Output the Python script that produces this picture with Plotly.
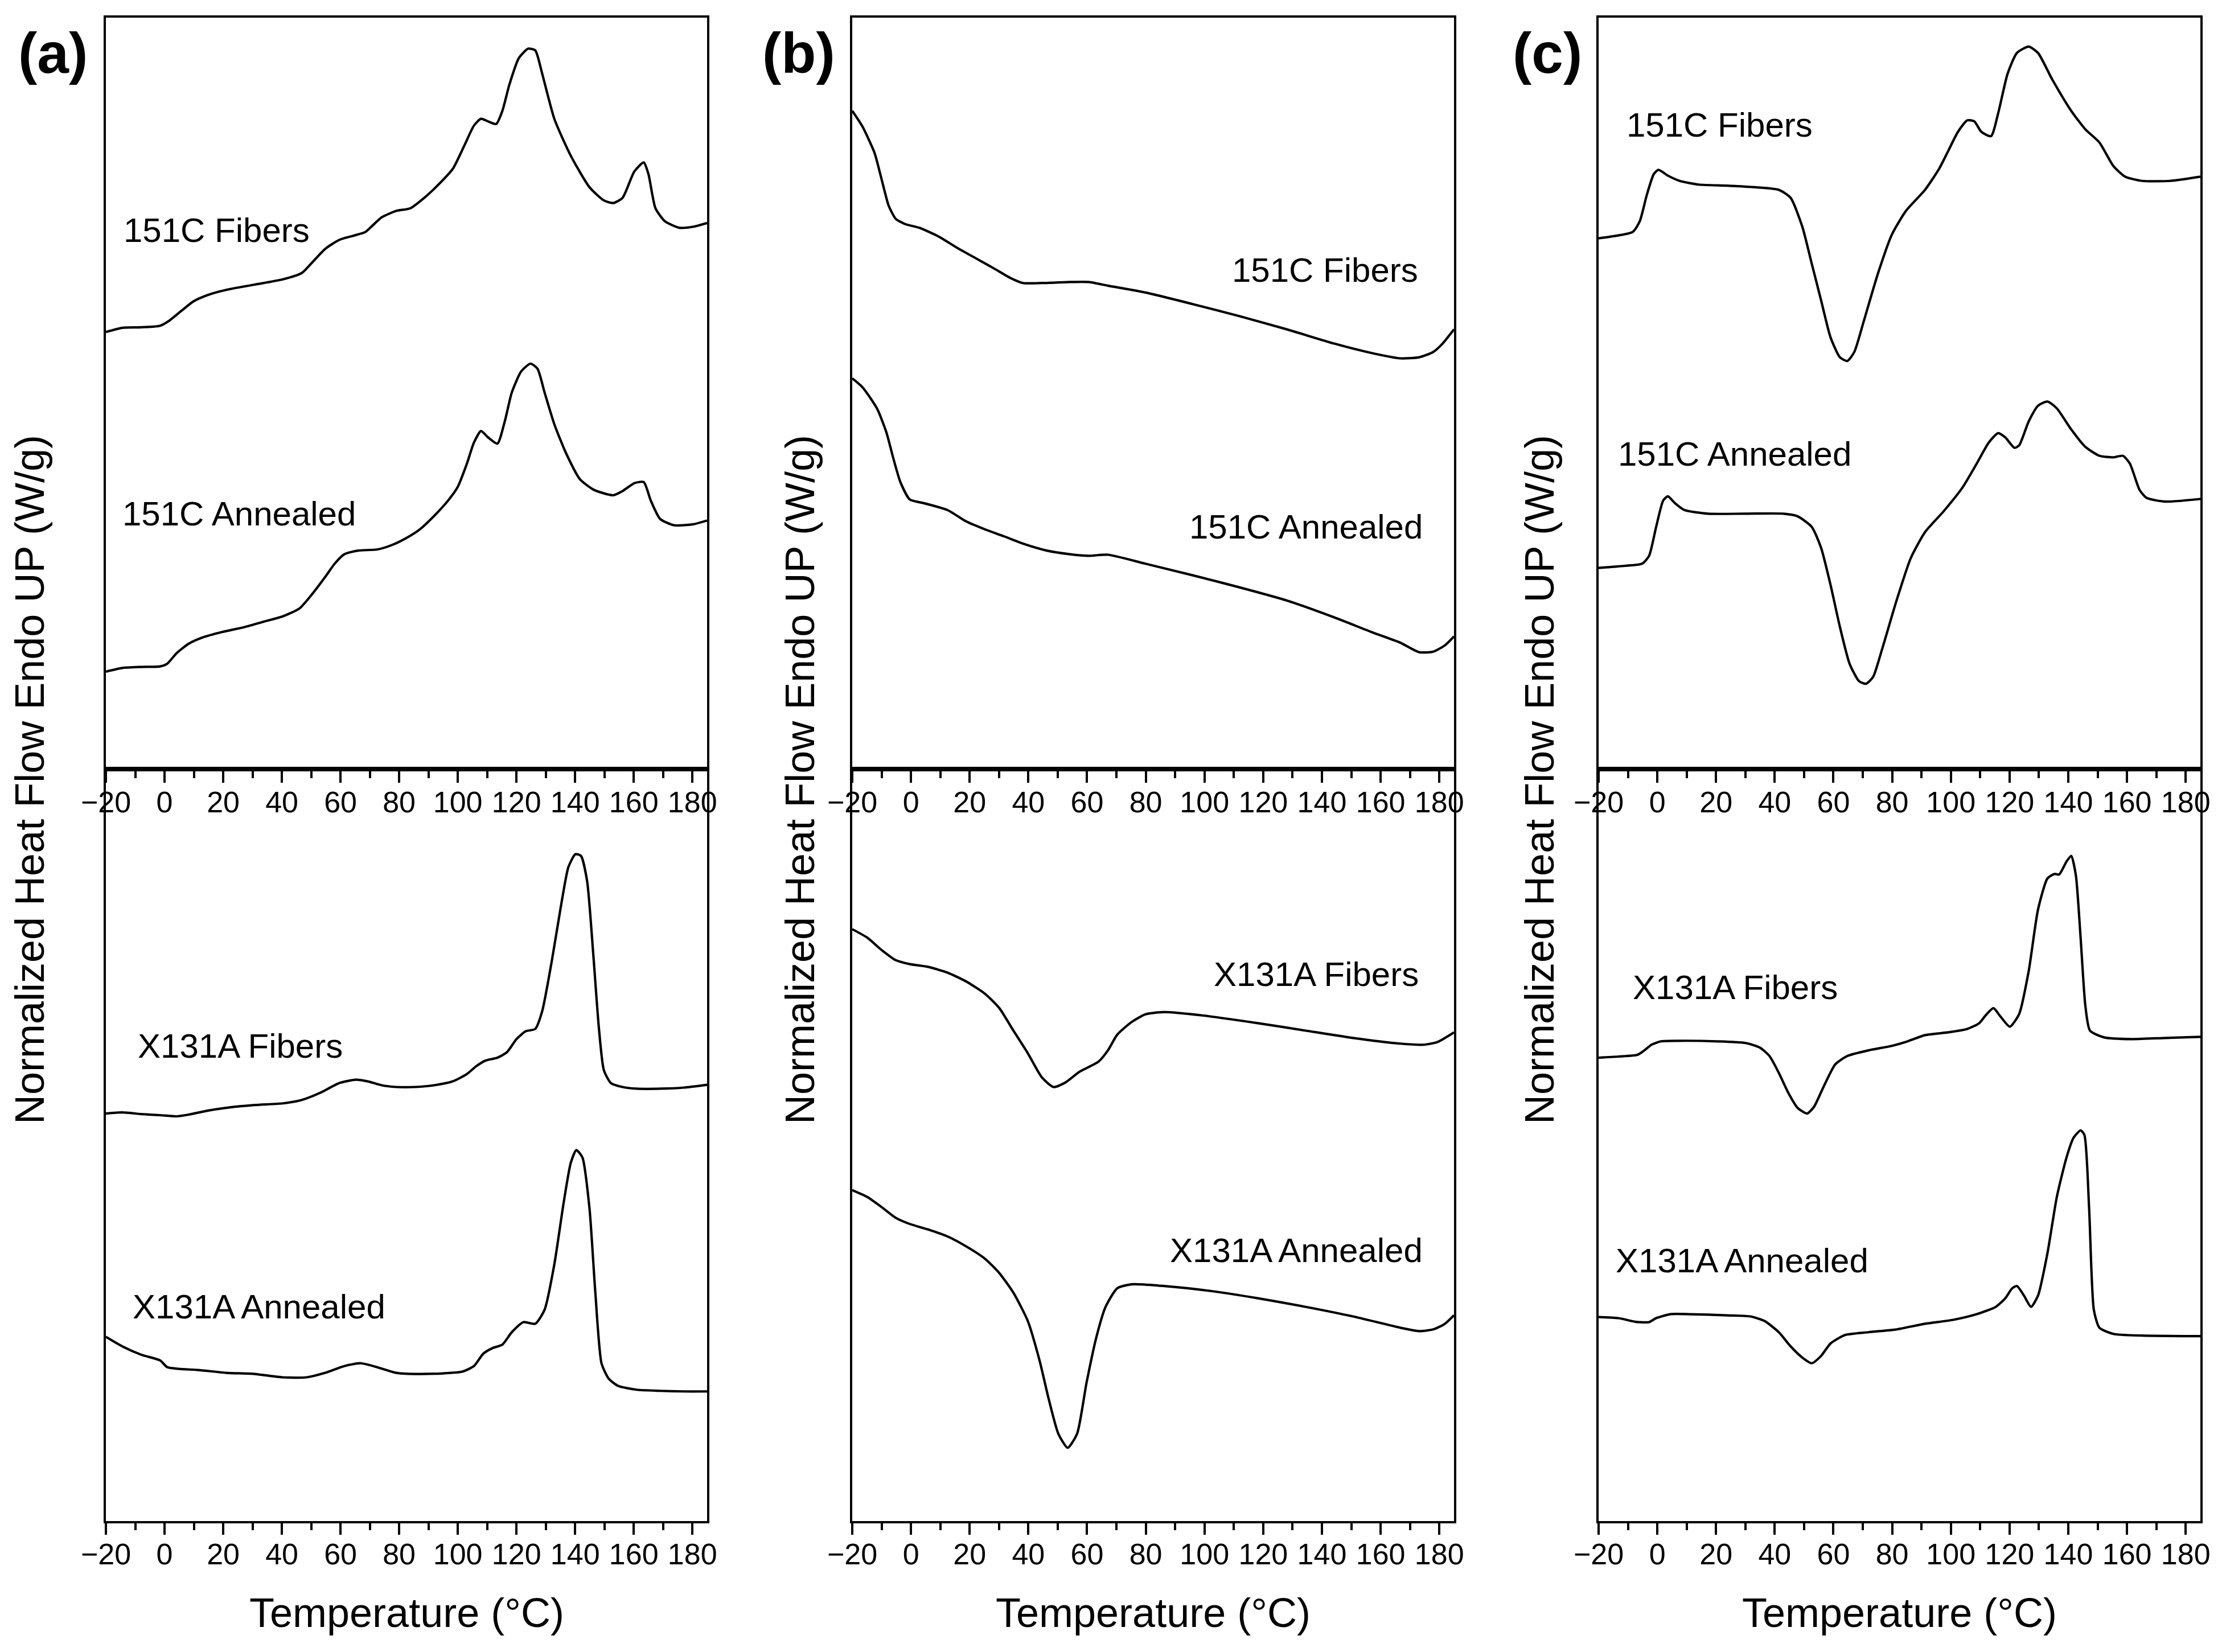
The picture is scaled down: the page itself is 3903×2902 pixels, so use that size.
import plotly.graph_objects as go

FONT = "Liberation Sans, Arial, sans-serif"

# DSC traces: temperature (°C) and normalized heat flow
# (arbitrary offset units, endo up)

# (a) top
a_151c_fib_t = [-20, -14.4, -7.9, -1.5, 1.7, 5.7, 9.8, 14.6, 21.0, 30.7, 40.3, 46.8, 50.0, 54.8, 59.6,
                64.5, 68.5, 70.9, 74.1, 79.0, 83.8, 88.6, 93.4, 98.3, 102.3, 105.5, 107.9, 110.3, 113.1,
                115.2, 117.6, 120.8, 124.0, 126.4, 128.8, 132.9, 138.5, 144.9, 149.8, 153.0, 156.2,
                160.2, 163.4, 165.0, 167.4, 170.7, 175.5, 180.3, 185]
a_151c_fib_y = [8.30, 8.38, 8.39, 8.42, 8.52, 8.70, 8.88, 9.00, 9.10, 9.20, 9.30, 9.42, 9.60, 9.88, 10.05,
                10.13, 10.20, 10.32, 10.48, 10.60, 10.65, 10.85, 11.10, 11.40, 11.85, 12.22, 12.35, 12.30,
                12.25, 12.50, 13.00, 13.50, 13.68, 13.65, 13.20, 12.35, 11.65, 11.05, 10.80, 10.75, 10.85,
                11.35, 11.52, 11.30, 10.65, 10.40, 10.28, 10.30, 10.37]
a_151c_ann_t = [-20, -14.4, -7.9, -1.5, 0.9, 4.1, 8.2, 13.0, 19.4, 27.5, 33.9, 40.3, 46.0, 50.0, 54.8,
                58.0, 61.3, 66.1, 72.5, 77.3, 82.2, 87.0, 91.8, 96.7, 99.9, 103.1, 105.5, 107.9, 110.3,
                113.5, 116.0, 118.4, 121.6, 124.8, 127.2, 129.6, 132.9, 136.9, 141.7, 146.5, 153.0,
                156.2, 160.2, 163.4, 165.8, 169.0, 173.8, 180.3, 185]
a_151c_ann_y = [1.85, 1.92, 1.94, 1.95, 2.00, 2.20, 2.38, 2.50, 2.60, 2.70, 2.80, 2.90, 3.05, 3.30, 3.65,
                3.90, 4.08, 4.15, 4.17, 4.25, 4.38, 4.55, 4.80, 5.10, 5.35, 5.80, 6.20, 6.42, 6.30,
                6.18, 6.60, 7.15, 7.55, 7.70, 7.60, 7.15, 6.55, 6.00, 5.50, 5.30, 5.20,
                5.28, 5.43, 5.45, 5.10, 4.75, 4.63, 4.65, 4.72]

# (a) bottom
a_x131_fib_t = [-20, -14.4, -7.9, -1.5, 4.1, 8.2, 14.6, 21.0, 30.7, 40.3, 46.8, 53.2, 59.6, 65.3, 69.3,
                74.1, 79.0, 85.4, 91.8, 98.3, 103.1, 106.3, 109.5, 113.5, 116.8, 120.0, 123.2, 126.4,
                128.8, 132.1, 135.3, 137.7, 140.1, 142.0, 144.1, 146.2, 148.1, 149.8, 152.2, 156.2,
                161.0, 169.1, 177.1, 185]
a_x131_fib_y = [7.23, 7.25, 7.22, 7.20, 7.18, 7.21, 7.28, 7.33, 7.38, 7.41, 7.47, 7.60, 7.77, 7.83, 7.80,
                7.73, 7.70, 7.70, 7.73, 7.80, 7.93, 8.07, 8.17, 8.22, 8.32, 8.55, 8.69, 8.73,
                9.05, 9.95, 10.95, 11.60, 11.83, 11.80, 11.35, 10.05, 8.75, 8.00, 7.77, 7.70,
                7.67, 7.67, 7.69, 7.74]
a_x131_ann_t = [-20, -14.4, -7.9, -1.5, 0.9, 4.9, 11.4, 21.0, 30.7, 40.3, 48.4, 54.8, 61.3, 66.9, 72.5,
                79.0, 85.4, 95.0, 101.5, 105.5, 108.7, 111.9, 115.2, 118.4, 122.4, 126.4, 129.6, 132.9,
                136.1, 138.5, 140.4, 142.5, 144.9, 146.9, 149.0, 151.4, 154.6, 161.0, 169.1, 177.1, 185]
a_x131_ann_y = [3.27, 3.10, 2.95, 2.85, 2.73, 2.70, 2.68, 2.63, 2.61, 2.55, 2.55, 2.63, 2.75, 2.80, 2.73,
                2.63, 2.61, 2.62, 2.65, 2.75, 2.97, 3.07, 3.13, 3.35, 3.53, 3.50, 3.75, 4.55,
                5.65, 6.35, 6.58, 6.45, 5.55, 4.05, 2.80, 2.53, 2.40, 2.33, 2.31, 2.30, 2.30]

# (b) top
b_151c_fib_t = [-20, -16.5, -12.4, -10.0, -7.6, -5.2, -2.0, 2.8, 9.2, 15.7, 22.1, 28.5, 34.1, 38.2, 44.6,
                54.2, 60.6, 67.1, 79.9, 96.0, 112.0, 128.1, 144.2, 157.0, 166.7, 173.1, 177.9, 181.1, 185]
b_151c_fib_y = [12.50, 12.20, 11.70, 11.20, 10.70, 10.45, 10.35, 10.28, 10.12, 9.90, 9.70, 9.50, 9.32, 9.23,
                9.23, 9.25, 9.25, 9.18, 9.05, 8.83, 8.60, 8.35, 8.08, 7.90, 7.80, 7.82, 7.92, 8.08, 8.35]
b_151c_ann_t = [-20, -16.5, -11.6, -8.4, -6.0, -3.6, -0.4, 4.4, 12.4, 18.9, 25.3, 31.7, 38.2, 46.2, 54.2,
                60.6, 67.1, 79.9, 96.0, 112.0, 128.1, 144.2, 157.0, 166.7, 173.1, 177.9, 181.9, 185]
b_151c_ann_y = [7.42, 7.25, 6.85, 6.40, 5.90, 5.45, 5.12, 5.05, 4.92, 4.70, 4.55, 4.42, 4.28, 4.15, 4.08,
                4.05, 4.07, 3.90, 3.68, 3.45, 3.20, 2.88, 2.60, 2.40, 2.22, 2.23, 2.35, 2.52]

# (b) bottom
b_x131_fib_t = [-20, -14.9, -10.0, -5.2, -0.4, 6.0, 12.4, 18.9, 25.3, 30.1, 34.9, 39.8, 44.6, 48.6, 52.6,
                57.4, 63.9, 67.1, 70.3, 75.1, 79.9, 86.3, 99.2, 118.5, 134.5, 150.6, 166.7, 174.7,
                179.5, 185]
b_x131_fib_y = [10.50, 10.35, 10.13, 9.95, 9.88, 9.83, 9.73, 9.57, 9.35, 9.10, 8.70, 8.30, 7.87, 7.70, 7.78,
                7.97, 8.15, 8.35, 8.63, 8.85, 8.99, 9.03, 8.97, 8.83, 8.70, 8.57, 8.47, 8.45, 8.50, 8.67]
b_x131_ann_t = [-20, -14.9, -10.0, -5.2, -0.4, 6.0, 12.4, 18.9, 25.3, 30.1, 34.9, 39.8, 43.8, 47.0, 50.2,
                53.4, 56.6, 59.8, 63.1, 66.3, 70.3, 75.1, 86.3, 102.4, 118.5, 134.5, 150.6, 166.7,
                173.1, 177.9, 181.9, 185]
b_x131_ann_y = [5.87, 5.75, 5.57, 5.38, 5.27, 5.17, 5.05, 4.87, 4.65, 4.40, 4.05, 3.55, 2.85, 2.15, 1.55,
                1.30, 1.55, 2.45, 3.25, 3.80, 4.13, 4.20, 4.17, 4.08, 3.95, 3.80, 3.63, 3.43,
                3.37, 3.40, 3.50, 3.65]

# (c) top
c_151c_fib_t = [-20, -14.9, -8.4, -6.0, -3.6, -1.2, 0.4, 3.6, 7.6, 14.1, 23.7, 33.3, 41.4, 45.4, 49.4,
                52.6, 55.8, 59.0, 62.2, 64.7, 67.1, 70.3, 75.1, 79.9, 84.7, 91.2, 96.0, 99.2, 102.4,
                105.6, 108.0, 110.4, 113.7, 116.1, 119.3, 122.5, 126.5, 129.7, 134.5, 141.0, 145.8,
                150.6, 155.4, 159.4, 165.1, 174.7, 185]
c_151c_fib_y = [10.08, 10.12, 10.20, 10.40, 10.90, 11.30, 11.38, 11.27, 11.17, 11.10, 11.08, 11.05, 11.00,
                10.85, 10.30, 9.60, 8.90, 8.20, 7.82, 7.75, 7.92, 8.50, 9.40, 10.15, 10.60, 11.00,
                11.40, 11.75, 12.10, 12.32, 12.30, 12.10, 12.02, 12.45, 13.20, 13.60, 13.72, 13.60,
                13.10, 12.50, 12.15, 11.90, 11.45, 11.25, 11.17, 11.17, 11.25]
c_151c_ann_t = [-20, -13.3, -5.2, -2.8, -0.4, 2.0, 3.6, 6.0, 9.2, 17.3, 30.1, 43.0, 47.8, 52.6, 55.8,
                59.0, 62.2, 65.5, 68.7, 71.1, 73.5, 76.7, 81.5, 86.3, 91.2, 97.6, 104.0, 108.8, 112.9,
                116.1, 118.5, 121.7, 123.3, 126.5, 129.7, 132.9, 136.1, 141.0, 145.8, 150.6, 155.4,
                158.6, 161.0, 164.3, 166.7, 173.1, 185]
c_151c_ann_y = [3.82, 3.85, 3.90, 4.05, 4.60, 5.10, 5.18, 5.05, 4.92, 4.85, 4.85, 4.85, 4.80, 4.60, 4.20,
                3.50, 2.70, 2.00, 1.67, 1.62, 1.75, 2.30, 3.20, 4.00, 4.50, 4.90, 5.35, 5.80, 6.20,
                6.38, 6.30, 6.10, 6.15, 6.60, 6.90, 6.98, 6.85, 6.45, 6.12, 5.95, 5.92, 5.95, 5.80,
                5.30, 5.15, 5.08, 5.13]

# (c) bottom
c_x131_fib_t = [-20, -13.3, -6.8, -4.4, -2.0, 1.2, 7.6, 20.5, 30.1, 34.9, 38.2, 41.4, 44.6, 47.8, 51.0,
                53.4, 56.6, 60.6, 64.7, 71.9, 79.9, 84.7, 91.2, 99.2, 105.6, 109.6, 112.0, 114.5,
                116.9, 120.1, 123.3, 126.5, 129.7, 132.9, 135.3, 136.9, 139.4, 141.0, 142.6, 144.2,
                145.8, 147.4, 152.2, 161.8, 173.1, 185]
c_x131_fib_y = [8.22, 8.24, 8.27, 8.35, 8.45, 8.51, 8.52, 8.51, 8.48, 8.40, 8.25, 7.95, 7.60, 7.33, 7.23,
                7.35, 7.70, 8.10, 8.25, 8.35, 8.43, 8.50, 8.62, 8.67, 8.73, 8.83, 8.98, 9.10, 8.95,
                8.77, 9.00, 9.75, 10.85, 11.40, 11.48, 11.47, 11.70, 11.80, 11.45, 10.35, 9.15, 8.70,
                8.58, 8.55, 8.57, 8.59]
c_x131_ann_t = [-20, -13.3, -6.8, -2.8, -0.4, 4.4, 10.8, 23.7, 31.7, 36.5, 41.4, 45.4, 49.4, 52.6, 55.8,
                59.0, 63.9, 71.9, 81.5, 91.2, 100.8, 108.8, 115.3, 118.5, 120.9, 122.5, 124.9, 127.3,
                129.7, 132.9, 136.1, 139.4, 141.8, 144.2, 145.5, 147.1, 148.7, 150.6, 155.4, 165.1, 185]
c_x131_ann_y = [3.62, 3.60, 3.53, 3.53, 3.60, 3.67, 3.67, 3.65, 3.63, 3.55, 3.35, 3.10, 2.90, 2.80, 2.93,
                3.15, 3.30, 3.35, 3.40, 3.50, 3.57, 3.67, 3.80, 3.95, 4.13, 4.17, 4.00, 3.80, 4.00,
                4.75, 5.75, 6.45, 6.80, 6.93, 6.85, 5.55, 3.75, 3.43, 3.32, 3.29, 3.28]

# curve labels: (text, temperature, heat flow, anchor)
a_top_labels = [("151C Fibers", -14.4, 10.23, "left"), ("151C Annealed", -14.7, 4.85, "left")]
a_bot_labels = [("X131A Fibers", -9.5, 8.43, "left"), ("X131A Annealed", -11.2, 3.80, "left")]
b_top_labels = [("151C Fibers", 173.1, 9.48, "right"), ("151C Annealed", 174.7, 4.60, "right")]
b_bot_labels = [("X131A Fibers", 173.4, 9.70, "right"), ("X131A Annealed", 174.7, 4.80, "right")]
c_top_labels = [("151C Fibers", -10.8, 12.23, "left"), ("151C Annealed", -13.7, 5.98, "left")]
c_bot_labels = [("X131A Fibers", -8.8, 9.47, "left"), ("X131A Annealed", -14.5, 4.62, "left")]

# page body margin pushes the figure by ~8 px, so work in shifted page pixels
OFF = 8
W, H = 3903 - OFF, 2902 - OFF
col_x = [(186, 1242), (1497, 2554), (2808, 3865)]
row_top = (31, 1351)
row_bot = (1351, 2672)


def px(v):
    return (v - OFF) / W


def py(v):
    return 1 - (v - OFF) / H


panels = [
    (0, row_top, [(a_151c_fib_t, a_151c_fib_y), (a_151c_ann_t, a_151c_ann_y)], a_top_labels, 14.27),
    (0, row_bot, [(a_x131_fib_t, a_x131_fib_y), (a_x131_ann_t, a_x131_ann_y)], a_bot_labels, 13.34),
    (1, row_top, [(b_151c_fib_t, b_151c_fib_y), (b_151c_ann_t, b_151c_ann_y)], b_top_labels, 14.27),
    (1, row_bot, [(b_x131_fib_t, b_x131_fib_y), (b_x131_ann_t, b_x131_ann_y)], b_bot_labels, 13.34),
    (2, row_top, [(c_151c_fib_t, c_151c_fib_y), (c_151c_ann_t, c_151c_ann_y)], c_top_labels, 14.27),
    (2, row_bot, [(c_x131_fib_t, c_x131_fib_y), (c_x131_ann_t, c_x131_ann_y)], c_bot_labels, 13.34),
]

fig = go.Figure()
annotations = []
axes = {}
for i, (col, (ytop, ybot), curves, labels, ymax) in enumerate(panels, start=1):
    sfx = "" if i == 1 else str(i)
    xa, ya = "x" + sfx, "y" + sfx
    for t, y in curves:
        fig.add_trace(go.Scatter(
            x=t, y=y, mode="lines", xaxis=xa, yaxis=ya, showlegend=False, hoverinfo="skip",
            line=dict(color="black", width=4.2, shape="spline", smoothing=0.6),
        ))
    x0, x1 = col_x[col]
    axes["xaxis" + sfx] = dict(
        domain=[px(x0), px(x1)], anchor=ya, range=[-20, 185], automargin=False,
        tick0=-20, dtick=20, ticks="outside", ticklen=20, tickwidth=3.5, tickcolor="black",
        minor=dict(dtick=10, tick0=-20, ticks="outside", ticklen=12, tickwidth=3.5, tickcolor="black"),
        ticklabelstandoff=-10,
        tickfont=dict(family=FONT, size=52, color="black"),
        showline=True, linecolor="black", linewidth=3.5, mirror=True,
        showgrid=False, zeroline=False,
    )
    axes["yaxis" + sfx] = dict(
        domain=[py(ybot), py(ytop)], anchor=xa, range=[0, ymax], automargin=False,
        showticklabels=False, ticks="",
        showline=True, linecolor="black", linewidth=3.5, mirror=True,
        showgrid=False, zeroline=False,
    )
    for text, tx, ty, anchor in labels:
        annotations.append(dict(
            text=text, x=tx, y=ty, xref=xa, yref=ya, xanchor=anchor, yanchor="middle",
            showarrow=False, font=dict(family=FONT, size=60, color="black"),
        ))

ytitle_x = [52, 1405, 2704]
panel_tags = [("(a)", 30), ("(b)", 1337), ("(c)", 2655)]
for col in range(3):
    x0, x1 = col_x[col]
    annotations.append(dict(
        text="Temperature (°C)", x=px((x0 + x1) / 2), y=py(2833), xref="paper", yref="paper",
        xanchor="center", yanchor="middle", showarrow=False,
        font=dict(family=FONT, size=72, color="black"),
    ))
    annotations.append(dict(
        text="Normalized Heat Flow Endo UP (W/g)", x=px(ytitle_x[col]), y=py(1370),
        xref="paper", yref="paper", xanchor="center", yanchor="middle", textangle=-90,
        showarrow=False, font=dict(family=FONT, size=72, color="black"),
    ))
    tag, tx = panel_tags[col]
    annotations.append(dict(
        text="<b>" + tag + "</b>", x=px(tx), y=py(93), xref="paper", yref="paper",
        xanchor="left", yanchor="middle", showarrow=False,
        font=dict(family=FONT, size=100, color="black"),
    ))

fig.update_layout(
    width=W, height=H, margin=dict(l=0, r=0, t=0, b=0),
    paper_bgcolor="white", plot_bgcolor="white",
    annotations=annotations, **axes,
)

fig.write_html("out.html")
